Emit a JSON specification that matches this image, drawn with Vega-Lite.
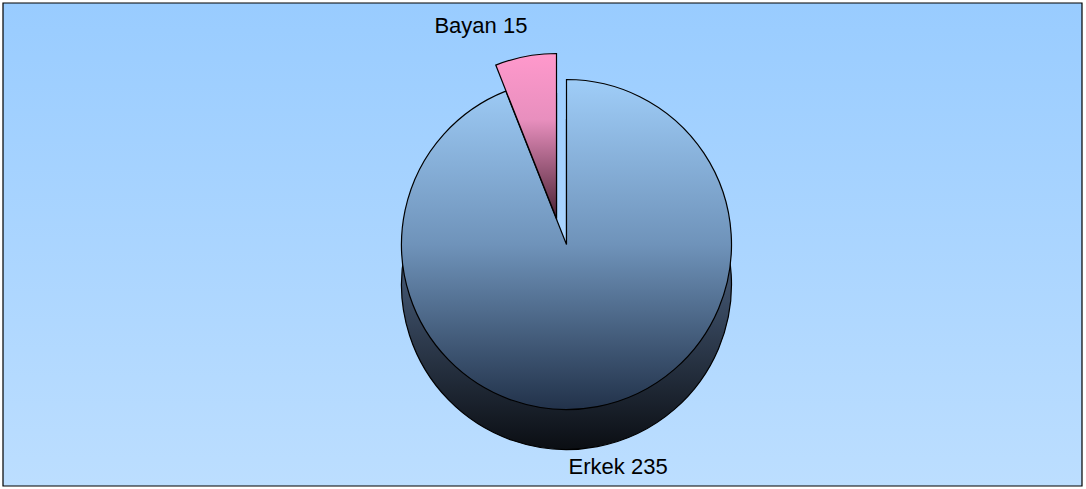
{
  "$schema": "https://vega.github.io/schema/vega-lite/v6.json",
  "width": 1086,
  "height": 489,
  "autosize": {"type": "fit", "contains": "padding"},
  "padding": {"left": 2, "top": 2, "right": 3, "bottom": 2},
  "background": "#ffffff",
  "config": {"view": {"stroke": null}},
  "data": {
    "values": [
      {"cinsiyet": "Erkek", "sayi": 235},
      {"cinsiyet": "Bayan", "sayi": 15}
    ]
  },
  "transform": [
    {"calculate": "datum.cinsiyet + ' ' + datum.sayi", "as": "etiket"}
  ],
  "layer": [
    {
      "mark": {"type": "rect", "stroke": "#000000", "strokeWidth": 1.2,
               "fill": {"gradient": "linear", "x1": 0, "y1": 0, "x2": 0, "y2": 1,
                        "stops": [{"offset": 0, "color": "#99CCFF"}, {"offset": 1, "color": "#BCDEFF"}]}},
      "encoding": {"opacity": {"condition": {"test": "datum.cinsiyet == 'Bayan'", "value": 0}, "value": 1}}
    },
    {
      "mark": {"type": "arc", "radius": 165, "xOffset": 24, "yOffset": 40, "stroke": "#000000", "strokeWidth": 1.2,
               "fill": {"gradient": "linear", "x1": 0, "y1": 0, "x2": 0, "y2": 1,
                        "stops": [{"offset": 0, "color": "#6F8AAE"}, {"offset": 0.55, "color": "#3A4B63"}, {"offset": 1, "color": "#0B0E13"}]}},
      "encoding": {
        "theta": {"field": "sayi", "type": "quantitative", "stack": true},
        "order": {"field": "cinsiyet", "sort": "descending"},
        "opacity": {"condition": {"test": "datum.cinsiyet == 'Bayan'", "value": 0}, "value": 1}
      }
    },
    {
      "mark": {"type": "arc", "radius": 165, "xOffset": 14, "yOffset": 14, "stroke": "#000000", "strokeWidth": 1.2,
               "fill": "#6E4358"},
      "encoding": {
        "theta": {"field": "sayi", "type": "quantitative", "stack": true},
        "order": {"field": "cinsiyet", "sort": "descending"},
        "opacity": {"condition": {"test": "datum.cinsiyet == 'Bayan'", "value": 1}, "value": 0}
      }
    },
    {
      "mark": {"type": "arc", "radius": 165, "xOffset": 24, "stroke": "#000000", "strokeWidth": 1.2,
               "fill": {"gradient": "linear", "x1": 0, "y1": 0, "x2": 0, "y2": 1,
                        "stops": [{"offset": 0, "color": "#9FCDF8"}, {"offset": 0.5, "color": "#6F93BA"}, {"offset": 1, "color": "#22324A"}]}},
      "encoding": {
        "theta": {"field": "sayi", "type": "quantitative", "stack": true},
        "order": {"field": "cinsiyet", "sort": "descending"},
        "opacity": {"condition": {"test": "datum.cinsiyet == 'Bayan'", "value": 0}, "value": 1}
      }
    },
    {
      "mark": {"type": "arc", "radius": 165, "xOffset": 14, "yOffset": -26, "stroke": "#000000", "strokeWidth": 1.2,
               "fill": {"gradient": "linear", "x1": 0, "y1": 0, "x2": 0, "y2": 1,
                        "stops": [{"offset": 0, "color": "#FF99CC"}, {"offset": 0.4, "color": "#E88FBE"}, {"offset": 1, "color": "#4A2233"}]}},
      "encoding": {
        "theta": {"field": "sayi", "type": "quantitative", "stack": true},
        "order": {"field": "cinsiyet", "sort": "descending"},
        "opacity": {"condition": {"test": "datum.cinsiyet == 'Bayan'", "value": 1}, "value": 0}
      }
    },
    {
      "mark": {"type": "text", "radius": 222, "xOffset": -20, "font": "Liberation Sans", "fontSize": 22, "color": "#000000"},
      "encoding": {
        "theta": {"field": "sayi", "type": "quantitative", "stack": true},
        "order": {"field": "cinsiyet", "sort": "descending"},
        "text": {"field": "etiket", "type": "nominal"},
        "opacity": {"condition": {"test": "datum.cinsiyet == 'Bayan'", "value": 1}, "value": 0}
      }
    },
    {
      "mark": {"type": "text", "radius": 222, "yOffset": 4, "xOffset": 34, "font": "Liberation Sans", "fontSize": 22, "color": "#000000"},
      "encoding": {
        "theta": {"field": "sayi", "type": "quantitative", "stack": true},
        "order": {"field": "cinsiyet", "sort": "descending"},
        "text": {"field": "etiket", "type": "nominal"},
        "opacity": {"condition": {"test": "datum.cinsiyet == 'Bayan'", "value": 0}, "value": 1}
      }
    }
  ]
}
